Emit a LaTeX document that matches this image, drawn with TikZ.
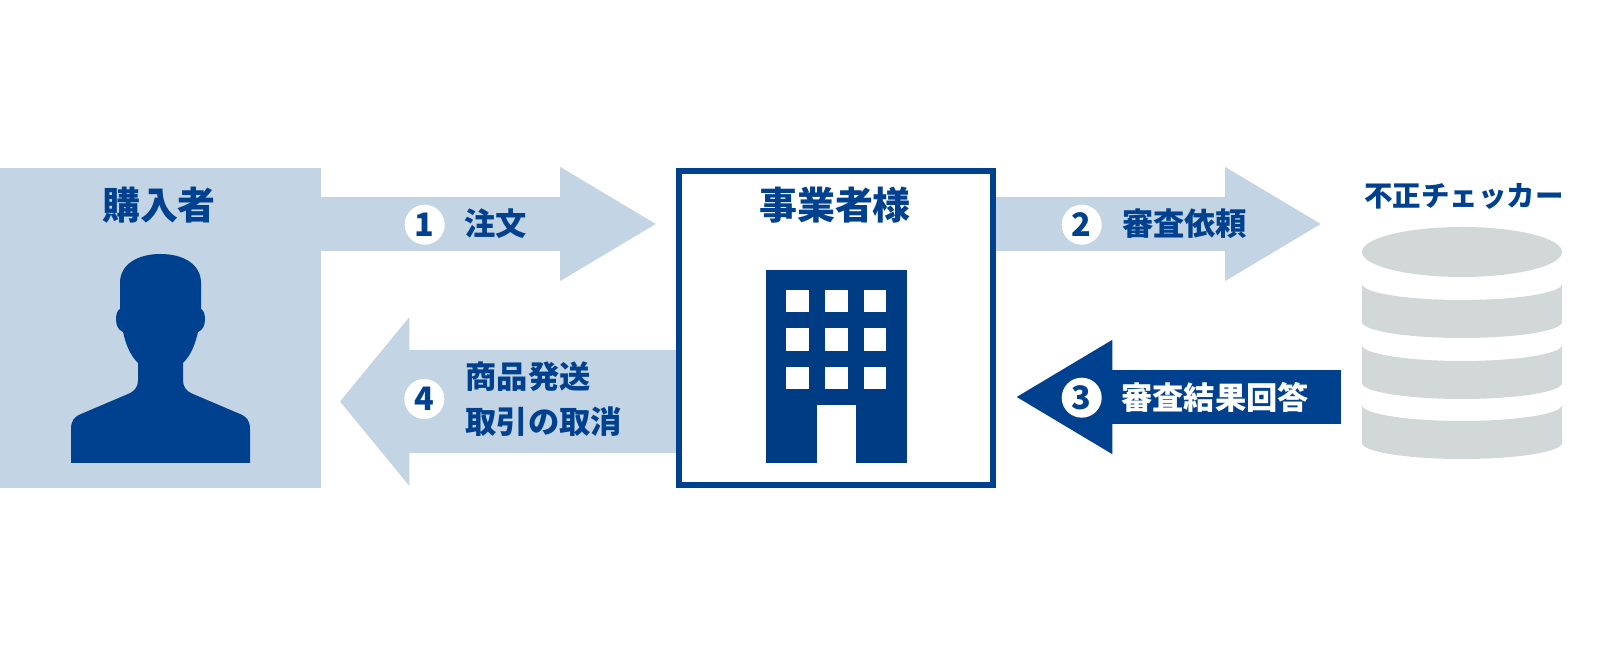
\documentclass[tikz,border=0pt]{standalone}
\usepackage{fontspec}
\setmainfont{Noto Sans CJK JP}
\usetikzlibrary{arrows.meta}
\definecolor{palebox}{HTML}{C3D4E5}
\definecolor{deepblue}{HTML}{00418F}
\definecolor{dbgrey}{HTML}{D2D8D8}
\tikzset{
  titletext/.style={text=deepblue, font=\bfseries\fontsize{10.8}{13}\selectfont, inner sep=0pt},
  labeltext/.style={text=deepblue, font=\bfseries\fontsize{8.9}{13}\selectfont, inner sep=0pt},
  numdot/.style={circle, fill=white, text=deepblue, minimum size=4mm, inner sep=0pt, font=\bfseries\fontsize{9.2}{11}\selectfont},
  paleflow/.style={draw=palebox, line width=5.43mm, -{Triangle[length=9.57mm,width=11.43mm,line width=0pt,fill=palebox]}},
}
\begin{document}
\begin{tikzpicture}[x=0.1mm,y=-0.1mm]
	\useasboundingbox (0,0) rectangle (1600,656);

	% Draw the three parties
	\node[fill=palebox, minimum width=32.1mm, minimum height=32mm, inner sep=0pt, outer sep=0pt] (buyer) at (160.5,328) {};
	\node[draw=deepblue, line width=1.8pt, fill=white, minimum width=31.37mm, minimum height=31.37mm, inner sep=0pt] (shop) at (836,328) {};
	\node[titletext] (buyertitle) at (159,205.5) {購入者};
	\node[titletext] (shoptitle) at (835,205) {事業者様};
	\node[titletext, font=\bfseries\fontsize{8.1}{10}\selectfont] (checkertitle) at (1464,196) {不正チェッカー};

	% Draw the person
	\fill[deepblue] (71,463) -- (71,429) .. controls (71,421) and (74,417) .. (81,414)
		-- (128,394) .. controls (135,391) and (138,387) .. (138,380) -- (138,363)
		.. controls (130,355) and (126,345) .. (123,332)
		.. controls (118,330) and (116,325) .. (116,319)
		.. controls (116,313) and (118,310) .. (120,309) -- (120,283)
		.. controls (120,264) and (138,254) .. (160.5,254)
		.. controls (183,254) and (201,264) .. (201,283) -- (201,309)
		.. controls (203,310) and (205,313) .. (205,319)
		.. controls (205,325) and (203,330) .. (198,332)
		.. controls (195,345) and (191,355) .. (183,363) -- (183,380)
		.. controls (183,387) and (186,391) .. (193,394)
		-- (240,414) .. controls (247,417) and (250,421) .. (250,429) -- (250,463) -- cycle;

	% Draw the building
	\fill[deepblue!92!black] (765.7,270.3) rectangle (907,463);
	\foreach \x in {786.3,825,863.7}
		\foreach \y in {289.7,328,366.7}
			\fill[white] (\x,\y) rectangle +(22.7,22.6);
	\fill[white] (817,405) rectangle (855.7,463);

	% Draw the database
	\fill[dbgrey] (1462,252) ellipse[x radius=100,y radius=25];
	\foreach \y in {284,345,405}
		\fill[dbgrey] (1362,\y) arc[start angle=180,end angle=0,x radius=100,y radius=16]
			-- ++(0,38) arc[start angle=0,end angle=180,x radius=100,y radius=16] -- cycle;

	% Draw the arrows
	\coordinate (ordertip) at (655.7,224);
	\coordinate (asktip) at (1320.7,224);
	\coordinate (answertip) at (1016.7,397);
	\coordinate (answerend) at (1340.7,397);
	\coordinate (shiptip) at (340,401.5);
	\draw[paleflow] (buyer.east |- ordertip) -- (ordertip);
	\draw[paleflow] (shop.east |- asktip) -- (asktip);
	\draw[draw=deepblue, line width=5.43mm, -{Triangle[length=9.56mm,width=11.43mm,line width=0pt,fill=deepblue]}] (answerend) -- (answertip);
	\draw[draw=palebox, line width=10.27mm, -{Triangle[length=6.93mm,width=16.87mm,line width=0pt,fill=palebox]}] (shop.west |- shiptip) -- (shiptip);

	% Number the arrows
	\node[numdot] (one) at (424.7,224.7) {1};
	\node[numdot] (two) at (1081.7,224.7) {2};
	\node[numdot] (three) at (1081.7,397.7) {3};
	\node[numdot] (four) at (424.3,399) {4};

	% Label the arrows
	\node[labeltext] (order) at (495.5,224) {注文};
	\node[labeltext] (ask) at (1184.7,224) {審査依頼};
	\node[labeltext, text=white] (answer) at (1215,397) {審査結果回答};
	\node[labeltext, align=left, anchor=west] (ship) at (465,399) {商品発送\\取引の取消};
\end{tikzpicture}
\end{document}
